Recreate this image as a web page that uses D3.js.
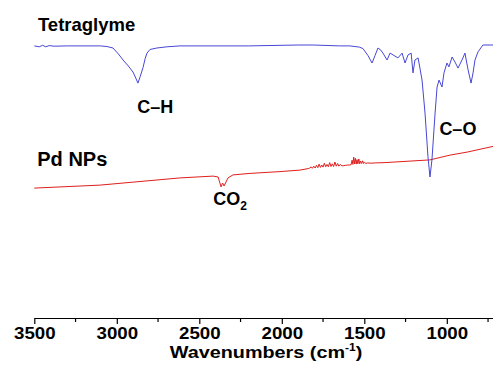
<!DOCTYPE html>
<html>
<head>
<meta charset="utf-8">
<script src="https://cdn.jsdelivr.net/npm/d3@7"></script>
<style>
  body { margin: 0; background: #fff; }
  svg { display: block; font-family: "Liberation Sans", Arial, sans-serif; font-weight: bold; }
</style>
</head>
<body>
<script>
// FTIR spectra (wavenumber in cm-1, transmittance in a.u.)
const tetraWn = [3500, 3470, 3450, 3430, 3410, 3380, 3300, 3100, 3060, 3023, 2990, 2962, 2930, 2902, 2885, 2872,
  2858, 2841, 2828, 2817, 2799, 2757, 2696, 2617, 2200, 1900, 1810, 1650, 1587, 1530, 1508, 1478, 1453, 1435,
  1417, 1400, 1387, 1362, 1344, 1326, 1296, 1271, 1253, 1235, 1216, 1205, 1193, 1174, 1150, 1132, 1114, 1102,
  1090, 1071, 1059, 1047, 1029, 1017, 999, 987, 968, 950, 932, 908, 890, 871, 853, 841, 829, 811, 781, 720];
const tetraT = [90.7, 90.4, 90.9, 90.4, 90.8, 90.6, 90.7, 90.7, 90.5, 90.0, 88.0, 86.0, 84.0, 82.0, 80.0, 78.3,
  80.5, 83.5, 86.5, 88.3, 89.5, 90.0, 90.4, 90.7, 90.7, 91.0, 91.0, 90.7, 90.7, 90.3, 89.8, 87.5, 85.0, 87.5,
  90.0, 89.3, 88.3, 86.0, 88.3, 87.7, 86.7, 88.3, 85.0, 87.7, 88.3, 81.7, 86.0, 86.7, 79.3, 68.3, 53.7, 47.0,
  52.7, 68.3, 77.0, 79.3, 77.0, 81.7, 85.0, 83.7, 87.0, 85.3, 83.3, 86.0, 88.3, 82.7, 78.3, 81.7, 86.0, 88.7, 91.0, 91.0];

const pdWn = [3500, 3101, 2616, 2416, 2386, 2368, 2359, 2350, 2326, 2296, 2193, 2011, 1890,
  1840, 1830, 1822, 1815, 1806, 1798, 1790, 1782, 1774, 1766, 1758, 1750, 1742, 1734, 1726, 1718, 1710, 1702,
  1694, 1686, 1678, 1670, 1662, 1654, 1646, 1636, 1624, 1612, 1600, 1590, 1580, 1574, 1569, 1564, 1559, 1554,
  1549, 1544, 1539, 1533, 1528, 1522, 1516, 1510, 1504, 1498, 1490, 1480, 1460, 1430, 1375, 1102, 980, 877, 720];
const pdT = [43.3, 44.3, 46.7, 47.3, 47.0, 43.7, 45.0, 44.0, 46.7, 47.7, 48.2, 48.8, 49.3,
  49.8, 50.0, 50.4, 49.9, 50.6, 50.0, 50.9, 50.1, 51.3, 50.2, 51.0, 50.3, 51.6, 50.4, 51.2, 50.4, 51.8, 50.5,
  51.4, 50.5, 52.0, 50.6, 51.5, 50.6, 51.2, 50.7, 50.8, 50.9, 51.0, 51.0, 51.1, 52.6, 51.2, 53.6, 51.4, 53.2,
  51.3, 52.8, 51.4, 53.0, 51.4, 52.3, 51.5, 52.4, 51.5, 51.9, 51.5, 51.7, 51.6, 51.7, 51.8, 52.7, 54.3, 55.3, 57.2];

const tickValues = [3500, 3000, 2500, 2000, 1500, 1000];
const minorTicks = [3250, 2750, 2250, 1750, 1250, 750];

const W = 493, H = 380;
const x = d3.scaleLinear().domain([3500, 720]).range([34.3, 493]);
const y = d3.scaleLinear().domain([0, 100]).range([318, 18]);

const svg = d3.select('body').append('svg')
  .attr('width', W)
  .attr('height', H);

const line = d3.line()
  .x(d => x(d[0]))
  .y(d => y(d[1]));

svg.append('path')
  .datum(d3.zip(pdWn, pdT))
  .attr('fill', 'none')
  .attr('stroke', '#e01e1e')
  .attr('stroke-width', 1)
  .attr('d', line);

svg.append('path')
  .datum(d3.zip(tetraWn, tetraT))
  .attr('fill', 'none')
  .attr('stroke', '#4747d6')
  .attr('stroke-width', 1)
  .attr('d', line);

/* x axis */
const axisG = svg.append('g')
  .attr('transform', `translate(0, ${y(0)})`)
  .call(d3.axisBottom(x).tickValues(tickValues).tickSize(6).tickSizeOuter(0).tickPadding(3).tickFormat(d3.format('d')));
axisG.select('.domain').attr('stroke', '#000').attr('stroke-width', 1.2);
axisG.selectAll('.tick line').attr('stroke-width', 1.2);
axisG.selectAll('.tick text')
  .attr('font-family', '"Liberation Sans", Arial, sans-serif')
  .attr('font-weight', 'bold')
  .attr('font-size', 17)
  .attr('fill', '#000')
  .attr('transform', 'scale(1.1,1)');

axisG.selectAll('.minor')
  .data(minorTicks)
  .enter().append('line')
  .attr('class', 'minor')
  .attr('x1', d => x(d)).attr('x2', d => x(d))
  .attr('y1', 0).attr('y2', 4)
  .attr('stroke', '#000')
  .attr('stroke-width', 1.2);

// the source is a little stretched sideways, so the axis title is too
const titleX = 266;
const title = svg.append('text')
  .attr('transform', `translate(${titleX}, 357.5) scale(1.2, 1)`)
  .attr('text-anchor', 'middle')
  .attr('font-size', 16.5);
title.append('tspan').text('Wavenumbers (cm');
title.append('tspan').attr('font-size', 10).attr('dy', -7).text('-1');
title.append('tspan').attr('dy', 7).text(')');

/* annotations */
function label(txt, wn, t, size) {
  return svg.append('text')
    .attr('x', x(wn))
    .attr('y', y(t))
    .attr('font-size', size)
    .text(txt);
}
label('Tetraglyme', 3478, 95.7, 18.5);
label('C\u2013H', 2876, 68.3, 18);
label('Pd NPs', 3482, 50.7, 20);
label('C\u2013O', 1045, 61, 18);
const co2 = label('CO', 2415, 37.7, 18);
co2.append('tspan').attr('font-size', 12).attr('dy', 5).text('2');
</script>
</body>
</html>
